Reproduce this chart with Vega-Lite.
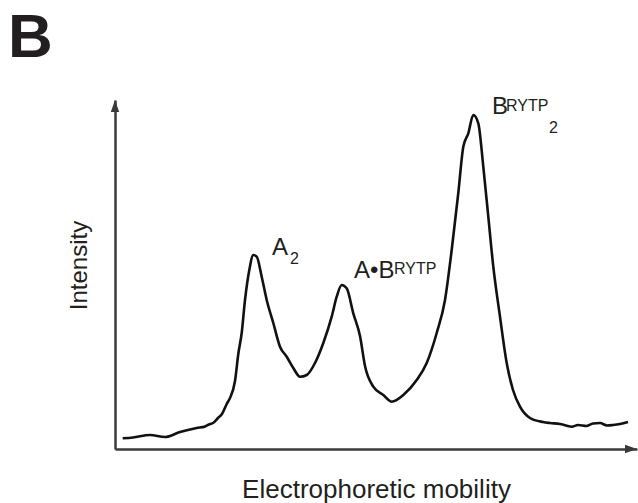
{
  "$schema": "https://vega.github.io/schema/vega-lite/v6.json",
  "width": 522,
  "height": 349,
  "autosize": {"type": "none"},
  "padding": {"left": 115, "top": 100, "right": 1, "bottom": 54},
  "background": "white",
  "config": {
    "view": {"stroke": null},
    "axis": {
      "domainColor": "#3a3a3a",
      "domainWidth": 2.5,
      "ticks": false,
      "labels": false,
      "grid": false,
      "titleFont": "Liberation Sans",
      "titleFontWeight": "normal",
      "titleColor": "#231f20"
    }
  },
  "datasets": {
    "trace": [
      {"mobility": 7.7, "intensity": 10.7},
      {"mobility": 18, "intensity": 11.5},
      {"mobility": 35, "intensity": 14},
      {"mobility": 50, "intensity": 12},
      {"mobility": 65, "intensity": 17},
      {"mobility": 81.7, "intensity": 21},
      {"mobility": 90, "intensity": 22.5},
      {"mobility": 95, "intensity": 25},
      {"mobility": 98, "intensity": 26},
      {"mobility": 103, "intensity": 31},
      {"mobility": 107, "intensity": 35},
      {"mobility": 111.7, "intensity": 45},
      {"mobility": 115, "intensity": 51},
      {"mobility": 120, "intensity": 68},
      {"mobility": 123.3, "intensity": 95},
      {"mobility": 126.7, "intensity": 116},
      {"mobility": 130, "intensity": 149},
      {"mobility": 134.3, "intensity": 179},
      {"mobility": 138.3, "intensity": 194},
      {"mobility": 141.7, "intensity": 192.3},
      {"mobility": 146.7, "intensity": 172.3},
      {"mobility": 151.7, "intensity": 149},
      {"mobility": 158.3, "intensity": 126},
      {"mobility": 165, "intensity": 102.3},
      {"mobility": 171.7, "intensity": 92.3},
      {"mobility": 178.3, "intensity": 81},
      {"mobility": 185, "intensity": 72.3},
      {"mobility": 191.7, "intensity": 74},
      {"mobility": 200, "intensity": 86},
      {"mobility": 208.3, "intensity": 106},
      {"mobility": 216.7, "intensity": 132.3},
      {"mobility": 221.7, "intensity": 152.3},
      {"mobility": 226.7, "intensity": 164},
      {"mobility": 231.7, "intensity": 160.7},
      {"mobility": 238.3, "intensity": 135.7},
      {"mobility": 245, "intensity": 113},
      {"mobility": 250, "intensity": 83},
      {"mobility": 258.3, "intensity": 62.3},
      {"mobility": 268.3, "intensity": 54},
      {"mobility": 276.7, "intensity": 47.3},
      {"mobility": 288.3, "intensity": 54},
      {"mobility": 301.7, "intensity": 69},
      {"mobility": 311.7, "intensity": 86},
      {"mobility": 321.7, "intensity": 116},
      {"mobility": 330, "intensity": 149},
      {"mobility": 336.7, "intensity": 199},
      {"mobility": 343.3, "intensity": 256},
      {"mobility": 348.3, "intensity": 302.3},
      {"mobility": 353.3, "intensity": 315.7},
      {"mobility": 358.3, "intensity": 334},
      {"mobility": 363.3, "intensity": 325.7},
      {"mobility": 368.3, "intensity": 282.3},
      {"mobility": 373.3, "intensity": 232.3},
      {"mobility": 378.3, "intensity": 182.3},
      {"mobility": 385, "intensity": 132.3},
      {"mobility": 391.7, "intensity": 86},
      {"mobility": 398, "intensity": 59},
      {"mobility": 405, "intensity": 42.3},
      {"mobility": 415, "intensity": 31},
      {"mobility": 428, "intensity": 27},
      {"mobility": 435, "intensity": 26},
      {"mobility": 445, "intensity": 25},
      {"mobility": 451, "intensity": 23.5},
      {"mobility": 456.7, "intensity": 22.3},
      {"mobility": 463, "intensity": 24},
      {"mobility": 471.7, "intensity": 23},
      {"mobility": 478, "intensity": 25.5},
      {"mobility": 485, "intensity": 26},
      {"mobility": 492, "intensity": 23.5},
      {"mobility": 498, "intensity": 24},
      {"mobility": 505, "intensity": 25},
      {"mobility": 513, "intensity": 27}
    ],
    "panelLabel": [
      {"label": "B", "mobility": -107, "intensity": 392.3}
    ],
    "mainLabels": [
      {"label": "A", "mobility": 157, "intensity": 194},
      {"label": "A•B", "mobility": 239, "intensity": 171},
      {"label": "B", "mobility": 377, "intensity": 335}
    ],
    "smallLabels": [
      {"label": "2", "mobility": 175, "intensity": 185},
      {"label": "RYTP", "mobility": 279, "intensity": 175},
      {"label": "RYTP", "mobility": 391, "intensity": 338},
      {"label": "2", "mobility": 434, "intensity": 316}
    ],
    "upArrow": [{"mobility": 0, "intensity": 349}],
    "rightArrow": [{"mobility": 522, "intensity": 0}]
  },
  "layer": [
    {
      "data": {"name": "trace"},
      "mark": {"type": "line", "color": "#111111", "strokeWidth": 2.6, "interpolate": "monotone"},
      "encoding": {
        "x": {
          "field": "mobility", "type": "quantitative",
          "scale": {"domain": [0, 522], "nice": false, "zero": false},
          "axis": {"title": "Electrophoretic mobility", "titleFontSize": 26, "titleY": 48, "titleBaseline": "alphabetic"}
        },
        "y": {
          "field": "intensity", "type": "quantitative",
          "scale": {"domain": [0, 349], "nice": false, "zero": false},
          "axis": {"title": "Intensity", "titleFontSize": 24, "titleX": -29, "titleY": 165, "titleBaseline": "alphabetic", "titleAngle": -90}
        }
      }
    },
    {
      "data": {"name": "panelLabel"},
      "mark": {"type": "text", "font": "Liberation Sans", "fontSize": 62, "fontWeight": "bold", "align": "left", "baseline": "alphabetic", "color": "#231f20"},
      "encoding": {
        "x": {"field": "mobility", "type": "quantitative"},
        "y": {"field": "intensity", "type": "quantitative"},
        "text": {"field": "label"}
      }
    },
    {
      "data": {"name": "mainLabels"},
      "mark": {"type": "text", "font": "Liberation Sans", "fontSize": 24, "align": "left", "baseline": "alphabetic", "color": "#231f20"},
      "encoding": {
        "x": {"field": "mobility", "type": "quantitative"},
        "y": {"field": "intensity", "type": "quantitative"},
        "text": {"field": "label"}
      }
    },
    {
      "data": {"name": "smallLabels"},
      "mark": {"type": "text", "font": "Liberation Sans", "fontSize": 16, "align": "left", "baseline": "alphabetic", "color": "#231f20"},
      "encoding": {
        "x": {"field": "mobility", "type": "quantitative"},
        "y": {"field": "intensity", "type": "quantitative"},
        "text": {"field": "label"}
      }
    },
    {
      "data": {"name": "upArrow"},
      "mark": {"type": "point", "shape": "M0,0L0.35,1L-0.35,1Z", "size": 576, "filled": true, "color": "#3a3a3a", "opacity": 1},
      "encoding": {
        "x": {"field": "mobility", "type": "quantitative"},
        "y": {"field": "intensity", "type": "quantitative"}
      }
    },
    {
      "data": {"name": "rightArrow"},
      "mark": {"type": "point", "shape": "M0,0L-1,0.35L-1,-0.35Z", "size": 576, "filled": true, "color": "#3a3a3a", "opacity": 1},
      "encoding": {
        "x": {"field": "mobility", "type": "quantitative"},
        "y": {"field": "intensity", "type": "quantitative"}
      }
    }
  ]
}
